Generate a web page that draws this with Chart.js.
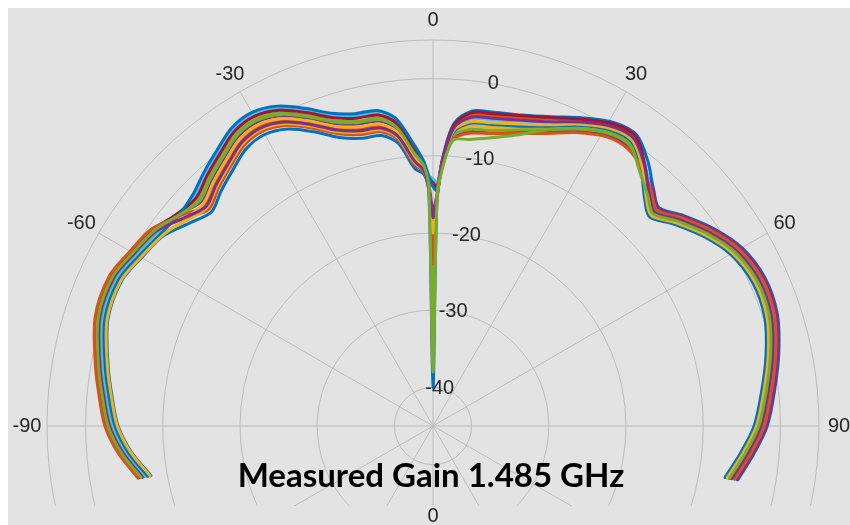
<!DOCTYPE html>
<html>
<head>
<meta charset="utf-8">
<script src="https://cdn.jsdelivr.net/npm/chart.js@4.4.1/dist/chart.umd.min.js"></script>
<style>
    html, body { margin: 0; padding: 0; background: #ffffff; }
    #wrap { width: 850px; height: 525px; position: relative; }
</style>
</head>
<body>
<div id="wrap"><canvas id="polar" width="850" height="525"></canvas></div>
<script>
// Angles (deg, clockwise from top) shared by every measured trace
const THETA = [-100, -95, -90, -85, -80, -72, -65, -60, -55, -50, -46, -42, -38, -34, -30, -26, -22, -18, -14, -10,
    -7, -4, -2, -1, 0, 1, 2, 4, 7, 11, 16, 21, 26, 31, 35, 39, 43, 46, 50, 55, 60, 66, 72, 78, 84, 90, 95, 100];

// Gain (dB) of each trace
const gain01 = [-7.9, -5.8, -4.2, -3.3, -2.3, -0.7, -0.5, -1.4, -2.2, -4.0, -5.1, -4.0, -2.9, -1.7, -1.4, -2.2, -3.9, -5.7, -6.6, -6.8,
    -8.1, -11.6, -12.4, -14.8, -40, -16, -10.5, -5.7, -3.9, -3.6, -3.1, -2.1, -0.6, 0.8, 1.0, -0.8, -3.1, -4.3, -2.6, -0.5, 1.2, 2.1, 1.9, 0.8, -0.5, -1.7, -3.3, -4.9];
const gain02 = [-6.7, -4.6, -3.0, -2.1, -1.1, 0.5, 0.7, -0.2, -1.0, -3.1, -4.6, -3.5, -2.4, -1.2, -0.9, -1.7, -3.4, -5.2, -6.1, -6.3,
    -7.6, -11.1, -12.1, -14.5, -22, -15.5, -10.7, -6.1, -4.4, -4.1, -3.5, -2.5, -1.0, 0.4, 0.6, -1.6, -4.3, -5.5, -3.8, -1.7, 0.0, 0.9, 0.7, -0.4, -1.7, -2.9, -4.5, -6.1];
const gain03 = [-7.6, -5.5, -3.9, -3.0, -2.0, -0.4, -0.2, -1.1, -1.9, -3.5, -4.3, -3.2, -2.1, -0.9, -0.6, -1.4, -3.1, -4.9, -5.8, -6.0,
    -7.3, -10.8, -11.9, -14.2, -19, -15.2, -11.2, -7.0, -5.9, -5.6, -4.8, -3.6, -1.9, -0.5, -0.3, -1.8, -3.8, -5.0, -3.3, -1.2, 0.5, 1.4, 1.2, 0.1, -1.2, -2.4, -4.0, -5.6];
const gain04 = [-6.3, -4.2, -2.6, -1.7, -0.7, 0.9, 1.1, 0.2, -0.6, -2.2, -3.2, -2.1, -1.0, 0.2, 0.5, -0.3, -2.0, -3.8, -4.7, -4.9,
    -6.2, -9.7, -11.4, -13.6, -17, -15, -11.5, -7.6, -6.6, -6.3, -5.4, -4.2, -2.5, -1.1, -0.9, -1.8, -3.2, -4.4, -2.7, -0.6, 1.1, 2.0, 1.8, 0.7, -0.6, -1.8, -3.4, -5.0];
const gain05 = [-7.0, -4.9, -3.3, -2.4, -1.4, 0.2, 0.4, -0.5, -1.3, -2.4, -2.8, -1.7, -0.6, 0.6, 0.9, 0.1, -1.6, -3.4, -4.3, -4.5,
    -5.8, -9.3, -11.2, -14.0, -30, -15.5, -11.3, -7.3, -6.3, -6.0, -5.1, -3.9, -2.2, -0.8, -0.6, -2.3, -4.6, -5.8, -4.1, -2.0, -0.3, 0.6, 0.4, -0.7, -2.0, -3.2, -4.8, -6.4];
const gain06 = [-7.3, -5.2, -3.6, -2.7, -1.7, -0.1, 0.1, -0.8, -1.6, -2.2, -2.1, -1.0, 0.1, 1.3, 1.6, 0.8, -0.9, -2.7, -3.6, -3.8,
    -5.1, -8.6, -10.9, -12.5, -13, -13.5, -10.9, -6.4, -4.9, -4.6, -3.9, -2.8, -1.3, 0.1, 0.3, -1.4, -3.6, -4.8, -3.1, -1.0, 0.7, 1.6, 1.4, 0.3, -1.0, -2.2, -3.8, -5.4];
const gain07 = [-6.5, -4.4, -2.8, -1.9, -0.9, 0.7, 0.9, 0.0, -0.8, -2.0, -2.4, -1.3, -0.2, 1.0, 1.3, 0.5, -1.2, -3.0, -3.9, -4.1,
    -5.4, -8.9, -11.0, -12.8, -13.5, -14, -10.6, -5.9, -4.1, -3.8, -3.2, -2.2, -0.8, 0.6, 0.8, -1.4, -4.1, -5.3, -3.6, -1.5, 0.2, 1.1, 0.9, -0.2, -1.5, -2.7, -4.3, -5.9];
const gain08 = [-7.5, -5.4, -3.8, -2.9, -1.9, -0.3, -0.1, -1.0, -1.8, -2.2, -1.8, -0.7, 0.4, 1.6, 1.9, 1.1, -0.6, -2.4, -3.3, -3.5,
    -4.8, -8.3, -10.7, -12.6, -14, -14.5, -11.1, -6.8, -5.5, -5.2, -4.6, -3.4, -1.7, -0.3, -0.1, -2.2, -4.8, -6.0, -4.3, -2.2, -0.5, 0.4, 0.2, -0.9, -2.2, -3.4, -5.0, -6.6];
const gain09 = [-6.2, -4.1, -2.5, -1.6, -0.6, 1.0, 1.2, 0.3, -0.5, -2.5, -3.9, -2.8, -1.7, -0.5, -0.2, -1.0, -2.7, -4.5, -5.4, -5.6,
    -6.9, -10.4, -11.8, -14.3, -24, -15.8, -11.6, -7.8, -6.8, -6.4, -5.6, -4.4, -2.7, -1.3, -1.1, -2.0, -3.5, -4.7, -3.0, -0.9, 0.8, 1.7, 1.5, 0.4, -0.9, -2.1, -3.7, -5.3];
const gain10 = [-7.8, -5.7, -4.1, -3.2, -2.2, -0.6, -0.4, -1.3, -2.1, -3.2, -3.6, -2.5, -1.4, -0.2, 0.1, -0.7, -2.4, -4.2, -5.1, -5.3,
    -6.6, -10.1, -11.6, -14.0, -20, -15, -11.0, -6.6, -5.3, -5.0, -4.3, -3.2, -1.5, -0.1, 0.1, -1.9, -4.5, -5.7, -4.0, -1.9, -0.2, 0.7, 0.5, -0.6, -1.9, -3.1, -4.7, -6.3];
const gain11 = [-6.8, -4.7, -3.1, -2.2, -1.2, 0.4, 0.6, -0.3, -1.1, -3.0, -4.1, -3.0, -1.9, -0.7, -0.4, -1.2, -2.9, -4.7, -5.6, -5.8,
    -7.1, -10.6, -11.9, -14.4, -18, -15.4, -10.8, -6.3, -4.7, -4.4, -3.8, -2.8, -1.2, 0.2, 0.4, -1.5, -3.9, -5.1, -3.4, -1.3, 0.4, 1.3, 1.1, 0.0, -1.3, -2.5, -4.1, -5.7];
const gain12 = [-6.6, -4.5, -2.9, -2.0, -1.0, 0.6, 0.8, -0.1, -0.9, -2.3, -3.0, -1.9, -0.8, 0.4, 0.7, -0.1, -1.8, -3.6, -4.5, -4.7,
    -6.0, -9.5, -11.3, -14.2, -38, -16, -11.8, -7.9, -7.6, -7.0, -5.8, -3.9, -2.1, -0.7, -0.5, -2.5, -4.2, -5.4, -3.7, -1.6, 0.1, 1.0, 0.8, -0.3, -1.6, -2.8, -4.4, -6.0];

const GAINS = [gain01, gain02, gain03, gain04, gain05, gain06, gain07, gain08, gain09, gain10, gain11, gain12];

// MATLAB default line colour order
const COLORS = ['#0072BD', '#D95319', '#EDB120', '#7E2F8E', '#77AC30', '#4DBEEE', '#A2142F'];

// Axis ticks
const R_MIN = -45;
const R_MAX = 5;
const R_TICKS = [-40, -30, -20, -10, 0];
const THETA_GRID = [0, 30, 60, 90, 120, 150, 180, 210, 240, 270, 300, 330];
const THETA_LABELS = [-90, -60, -30, 0, 30, 60, 90];
const TITLE = 'Measured Gain 1.485 GHz';

// Layout of the polar axes on the canvas
const W = 850, H = 525;
const CX = 433, CY = 426, RADIUS = 386;
const PPU = RADIUS / (R_MAX - R_MIN);
const CLIP_BOTTOM = 506;

// polar -> cartesian, radius measured from R_MIN
function toXY(theta, g) {
    const r = g - R_MIN;
    const a = theta * Math.PI / 180;
    return { x: r * Math.sin(a), y: r * Math.cos(a) };
}

// Draws background, rings, spokes and tick labels from the chart's scales
const polarGrid = {
    id: 'polarGrid',
    beforeDraw(chart) {
        const ctx = chart.ctx;
        ctx.save();
        ctx.fillStyle = '#ffffff';
        ctx.fillRect(0, 0, W, H);
        ctx.fillStyle = '#e3e3e3';
        ctx.fillRect(8, 8, W - 8, H - 8);
        ctx.restore();
    },
    beforeDatasetsDraw(chart) {
        const ctx = chart.ctx;
        const sx = chart.scales.x, sy = chart.scales.y;
        const cx = sx.getPixelForValue(0), cy = sy.getPixelForValue(0);
        const rad = g => sx.getPixelForValue(g - R_MIN) - cx;
        ctx.save();
        ctx.beginPath();
        ctx.rect(8, 8, W - 8, CLIP_BOTTOM - 8);
        ctx.clip();
        ctx.strokeStyle = '#bcbcbc';
        ctx.lineWidth = 1;
        R_TICKS.concat([R_MAX]).forEach(g => {
            ctx.beginPath();
            ctx.arc(cx, cy, rad(g), 0, Math.PI * 2);
            ctx.stroke();
        });
        const outer = rad(R_MAX);
        THETA_GRID.forEach(t => {
            const a = t * Math.PI / 180;
            ctx.beginPath();
            ctx.moveTo(cx, cy);
            ctx.lineTo(cx + outer * Math.sin(a), cy - outer * Math.cos(a));
            ctx.stroke();
        });
        ctx.restore();
    },
    afterDatasetsDraw(chart) {
        const ctx = chart.ctx;
        const sx = chart.scales.x, sy = chart.scales.y;
        const cx = sx.getPixelForValue(0), cy = sy.getPixelForValue(0);
        const rad = g => sx.getPixelForValue(g - R_MIN) - cx;
        ctx.save();
        ctx.fillStyle = '#262626';
        ctx.font = '20px "Liberation Sans", Arial, sans-serif';
        ctx.textAlign = 'center';
        ctx.textBaseline = 'middle';
        // radial tick labels along 10 deg
        const ra = 10 * Math.PI / 180;
        R_TICKS.forEach(g => {
            const r = rad(g);
            ctx.fillText(String(g), cx + r * Math.sin(ra), cy - r * Math.cos(ra));
        });
        // angle tick labels
        const lr = rad(R_MAX) + 20;
        THETA_LABELS.forEach(t => {
            const a = t * Math.PI / 180;
            ctx.fillText(String(t), cx + lr * Math.sin(a), cy - lr * Math.cos(a));
        });
        ctx.fillText('0', cx, 516);
        // title inside the axes
        ctx.fillStyle = '#000000';
        ctx.font = 'bold 33px Lato, "Open Sans", sans-serif';
        ctx.textBaseline = 'alphabetic';
        ctx.fillText(TITLE, 431, 487);
        ctx.restore();
    }
};

const datasets = GAINS.map((g, i) => ({
    label: 'Trace ' + (i + 1),
    data: THETA.map((t, j) => toXY(t, g[j])),
    borderColor: COLORS[i % COLORS.length],
    borderWidth: 3,
    showLine: true,
    pointRadius: 0,
    tension: 0.3,
    borderJoinStyle: 'round',
    borderCapStyle: 'round',
    order: GAINS.length - i
}));

new Chart(document.getElementById('polar'), {
    type: 'scatter',
    data: { datasets: datasets },
    options: {
        responsive: false,
        animation: false,
        layout: { padding: 0 },
        plugins: {
            legend: { display: false },
            tooltip: { enabled: false }
        },
        scales: {
            x: { type: 'linear', display: false, min: -CX / PPU, max: (W - CX) / PPU },
            y: { type: 'linear', display: false, min: -(H - CY) / PPU, max: CY / PPU }
        }
    },
    plugins: [polarGrid]
});
</script>
</body>
</html>
